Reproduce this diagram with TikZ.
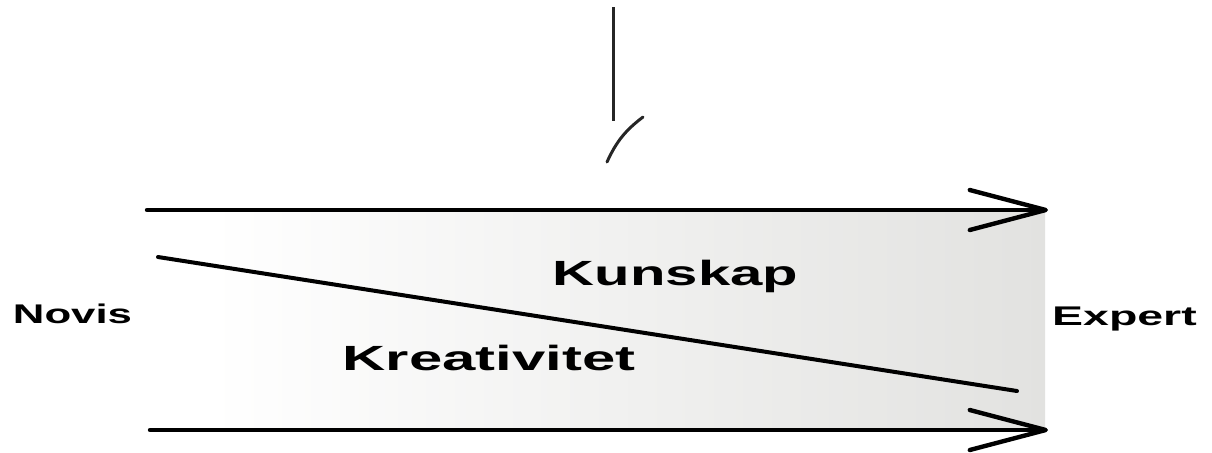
\documentclass[tikz,border=0pt]{standalone}
\usepackage{fontspec}
\setmainfont{Liberation Sans}
\usetikzlibrary{arrows.meta, positioning}
\definecolor{bandGray}{HTML}{E2E2E0}

\begin{document}
\begin{tikzpicture}[
    x=0.5pt, y=-0.5pt,
    axis/.style={line width=2.2pt, line cap=round, -{Straight Barb[length=38pt, width=20pt, line cap=round, line join=round]}},
    bigtext/.style={font=\fontsize{17.5}{20}\selectfont\bfseries, inner sep=0pt, anchor=base},
    endtext/.style={font=\fontsize{13.5}{16}\selectfont\bfseries, inner sep=0pt, anchor=base},
]
    \useasboundingbox (0,0) rectangle (1212,452);

    % Shaded band
    \shade[left color=white, right color=bandGray] (210,210) rectangle (1045,430);

    % Arrows
    \coordinate (topStart) at (147,210);
    \coordinate (topEnd) at (1048,210);
    \coordinate (botStart) at (150,430);
    \coordinate (botEnd) at (1048,430);
    \draw[axis] (topStart) -- (topEnd);
    \draw[axis] (botStart) -- (botEnd);

    % Dividing line
    \coordinate (divStart) at (158,257);
    \coordinate (divEnd) at (1017,391);
    \draw[line width=2pt, line cap=round] (divStart) -- (divEnd);

    % Break marks
    \coordinate (vTop) at (613,7);
    \coordinate (vBot) at (613,121);
    \draw[line width=1.5pt, black!85] (vTop) -- (vBot);
    \coordinate (cLow) at (607,162);
    \coordinate (cHigh) at (643,117);
    \draw[line width=1.5pt, line cap=round, black!85] (cLow) to[bend left=14] (cHigh);

    % Labels
    \node[bigtext] (kunskap) at (675.5,285) {\scalebox{1.66}[1]{Kunskap}};
    \node[bigtext] (kreativitet) at (489,370) {\scalebox{1.71}[1]{Kreativitet}};
    \node[endtext] (novis) at (72.5,323) {\scalebox{1.62}[1]{Novis}};
    \node[endtext] (expert) at (1124.5,325) {\scalebox{1.72}[1]{Expert}};
\end{tikzpicture}
\end{document}
